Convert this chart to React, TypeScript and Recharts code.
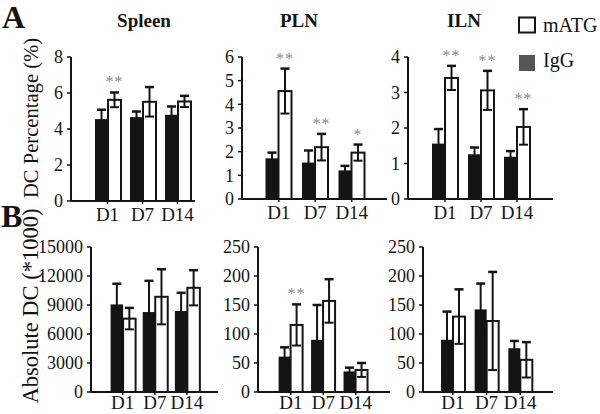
import React from "react";
import { BarChart, Bar, XAxis, YAxis, LabelList } from "recharts";

// time points
const days = ["D1", "D7", "D14"];

// A: DC percentage (%)
const spleenPctIgG = [4.55, 4.66, 4.79];
const spleenPctIgGErr = [0.52, 0.31, 0.46];
const spleenPctMatg = [5.62, 5.51, 5.53];
const spleenPctMatgErr = [0.41, 0.82, 0.31];
const spleenPctSig = ["**", "", ""];

const plnPctIgG = [1.72, 1.54, 1.21];
const plnPctIgGErr = [0.24, 0.51, 0.19];
const plnPctMatg = [4.56, 2.19, 1.96];
const plnPctMatgErr = [0.95, 0.56, 0.34];
const plnPctSig = ["**", "**", "*"];

const ilnPctIgG = [1.56, 1.26, 1.19];
const ilnPctIgGErr = [0.41, 0.19, 0.16];
const ilnPctMatg = [3.41, 3.06, 2.03];
const ilnPctMatgErr = [0.34, 0.55, 0.5];
const ilnPctSig = ["**", "**", "**"];

// B: absolute DC (*1000)
const spleenAbsIgG = [9060, 8270, 8380];
const spleenAbsIgGErr = [2140, 3230, 1880];
const spleenAbsMatg = [7590, 9850, 10780];
const spleenAbsMatgErr = [1110, 2850, 1820];
const spleenAbsSig = ["", "", ""];

const plnAbsIgG = [61, 90, 35.5];
const plnAbsIgGErr = [16, 60, 6.5];
const plnAbsMatg = [115.6, 157, 38];
const plnAbsMatgErr = [35.5, 37.5, 12];
const plnAbsSig = ["**", "", ""];

const ilnAbsIgG = [90, 142.4, 75.5];
const ilnAbsIgGErr = [48.6, 44.6, 12.5];
const ilnAbsMatg = [130, 122.4, 55.5];
const ilnAbsMatgErr = [47, 84.6, 30.5];
const ilnAbsSig = ["", "", ""];

const pctTicksSpleen = [0, 2, 4, 6, 8];
const pctTicksPln = [0, 1, 2, 3, 4, 5, 6];
const pctTicksIln = [0, 1, 2, 3, 4];
const absTicksSpleen = [0, 3000, 6000, 9000, 12000, 15000];
const absTicksLn = [0, 50, 100, 150, 200, 250];

const FONT = "'Liberation Serif', 'Times New Roman', serif";
const INK = "#141414";

function makeRows(igg: number[], iggErr: number[], matg: number[], matgErr: number[], sig: string[]) {
  return days.map((d, i) => ({
    day: d,
    igg: igg[i],
    iggErr: iggErr[i],
    matg: matg[i],
    matgErr: matgErr[i],
    sig: sig[i],
  }));
}

// bar + symmetric error bar, error length converted with the panel's px-per-unit
const barWithError = (errKey: string, ppu: number, fill: string) => (props: any) => {
  const { x, y, width, height, payload } = props;
  const e = payload[errKey] * ppu;
  const cx = x + width / 2;
  const cap = 4.5;
  return (
    <g>
      <rect x={x} y={y} width={width} height={height} fill={fill} stroke={INK} strokeWidth={fill === INK ? 0 : 2} />
      <line x1={cx} y1={y - e} x2={cx} y2={y + e} stroke={INK} strokeWidth={2} />
      <line x1={cx - cap} y1={y - e} x2={cx + cap} y2={y - e} stroke={INK} strokeWidth={2.5} />
      <line x1={cx - cap} y1={y + e} x2={cx + cap} y2={y + e} stroke={INK} strokeWidth={2} />
    </g>
  );
};

type PanelProps = {
  rows: any[];
  yMax: number;
  ticks: number[];
  axisX: number;
  right: number;
  top: number;
  bottom: number;
  padL: number;
  padR: number;
  barSize: number;
  labelGap: number;
};

const Panel = ({ rows, yMax, ticks, axisX, right, top, bottom, padL, padR, barSize, labelGap }: PanelProps) => {
  const yAxisW = 60;
  const mTop = 14;
  const xh = 30;
  const left = axisX - yAxisW;
  const width = right - left + 6;
  const height = bottom - top + mTop + xh;
  const ppu = (bottom - top) / yMax;

  const renderStar = (props: any) => {
    const { x, y, width: w, index, value } = props;
    if (!value) return null;
    const errPx = rows[index].matgErr * ppu;
    return (
      <text
        x={x + w / 2}
        y={y - errPx - 5}
        textAnchor="middle"
        fill="#8a8a8a"
        fontSize={16}
        fontFamily={FONT}
        letterSpacing={1}
      >
        {value}
      </text>
    );
  };

  return (
    <div style={{ position: "absolute", left, top: top - mTop, width, height }}>
      <BarChart
        width={width}
        height={height}
        data={rows}
        margin={{ top: mTop, right: 6, bottom: 0, left: 0 }}
        barGap={0}
        barSize={barSize}
      >
        <XAxis
          dataKey="day"
          height={xh}
          padding={{ left: padL, right: padR }}
          axisLine={{ stroke: INK, strokeWidth: 2 }}
          tickLine={{ stroke: INK, strokeWidth: 1.5 }}
          tickSize={3}
          tickMargin={labelGap}
          tick={{ fill: INK, fontSize: 19, fontFamily: FONT }}
          interval={0}
        />
        <YAxis
          width={yAxisW}
          domain={[0, yMax]}
          ticks={ticks}
          interval={0}
          axisLine={{ stroke: INK, strokeWidth: 2 }}
          tickLine={{ stroke: INK, strokeWidth: 1.5 }}
          tickSize={4}
          tickMargin={4}
          tick={{ fill: INK, fontSize: 18, fontFamily: FONT }}
        />
        <Bar dataKey="igg" fill={INK} isAnimationActive={false} shape={barWithError("iggErr", ppu, INK)} />
        <Bar dataKey="matg" fill="#ffffff" isAnimationActive={false} shape={barWithError("matgErr", ppu, "#ffffff")}>
          <LabelList dataKey="sig" content={renderStar} />
        </Bar>
      </BarChart>
    </div>
  );
};

export default function App() {
  return (
    <div style={{ position: "absolute", left: 0, top: 0, width: 600, height: 414, background: "#fff", fontFamily: FONT, overflow: "hidden" }}>
      <Panel rows={makeRows(spleenPctIgG, spleenPctIgGErr, spleenPctMatg, spleenPctMatgErr, spleenPctSig)}
        yMax={8} ticks={pctTicksSpleen} axisX={71} right={195} top={57} bottom={201} padL={19} padR={0} barSize={13} labelGap={4} />
      <Panel rows={makeRows(plnPctIgG, plnPctIgGErr, plnPctMatg, plnPctMatgErr, plnPctSig)}
        yMax={6} ticks={pctTicksPln} axisX={242} right={387} top={57} bottom={199} padL={18.5} padR={17} barSize={13} labelGap={4} />
      <Panel rows={makeRows(ilnPctIgG, ilnPctIgGErr, ilnPctMatg, ilnPctMatgErr, ilnPctSig)}
        yMax={4} ticks={pctTicksIln} axisX={408} right={553} top={57} bottom={199} padL={19} padR={18} barSize={13} labelGap={4} />
      <Panel rows={makeRows(spleenAbsIgG, spleenAbsIgGErr, spleenAbsMatg, spleenAbsMatgErr, spleenAbsSig)}
        yMax={15000} ticks={absTicksSpleen} axisX={91} right={218} top={247} bottom={392} padL={15.6} padR={15} barSize={12.5} labelGap={1} />
      <Panel rows={makeRows(plnAbsIgG, plnAbsIgGErr, plnAbsMatg, plnAbsMatgErr, plnAbsSig)}
        yMax={250} ticks={absTicksLn} axisX={258} right={390} top={247} bottom={392} padL={16.6} padR={18} barSize={12} labelGap={1} />
      <Panel rows={makeRows(ilnAbsIgG, ilnAbsIgGErr, ilnAbsMatg, ilnAbsMatgErr, ilnAbsSig)}
        yMax={250} ticks={absTicksLn} axisX={423} right={553} top={247} bottom={392} padL={13} padR={16} barSize={12} labelGap={1} />

      <svg width={600} height={414} style={{ position: "absolute", left: 0, top: 0, pointerEvents: "none" }}>
        <g fontFamily={FONT} fill={INK}>
          <text x={2} y={28} fontSize={32} fontWeight="bold">A</text>
          <text x={1} y={227} fontSize={32} fontWeight="bold">B</text>
          <text x={144} y={27} fontSize={19} fontWeight="bold" textAnchor="middle">Spleen</text>
          <text x={299} y={27} fontSize={19} fontWeight="bold" textAnchor="middle">PLN</text>
          <text x={464} y={27} fontSize={19} fontWeight="bold" textAnchor="middle">ILN</text>
          <text transform="translate(38,118) rotate(-90)" fontSize={20.6} textAnchor="middle">DC Percentage (%)</text>
          <text transform="translate(38,306) rotate(-90)" fontSize={22.5} textAnchor="middle">Absolute DC (*1000)</text>
          <rect x={519} y={17.5} width={16} height={15} fill="#fff" stroke={INK} strokeWidth={2} />
          <text x={543} y={32} fontSize={20}>mATG</text>
          <rect x={519} y={55} width={16} height={16} fill="#555" />
          <text x={543} y={67} fontSize={20}>IgG</text>
        </g>
      </svg>
    </div>
  );
}
